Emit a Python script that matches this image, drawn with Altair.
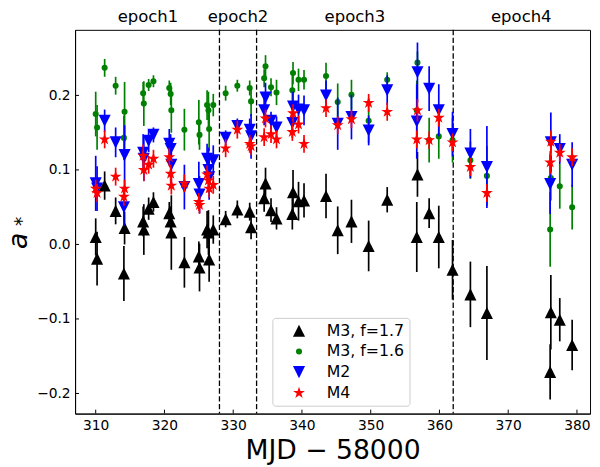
import math
import altair as alt
import pandas as pd

# ---------------- data ----------------
mjd = [310.0, 310.2, 311.3, 312.9, 314.1, 314.2, 316.9, 317.0, 317.7, 318.4,
       320.7, 320.9, 321.0, 322.9, 325.0, 325.1, 326.2, 326.4, 326.5, 327.1,
       328.9, 330.6, 332.4, 332.6, 334.5, 334.7, 335.5, 336.3, 338.6, 338.7,
       339.5, 340.3, 343.5, 345.2, 347.2, 349.7, 352.4, 356.7, 356.8, 358.5,
       359.9, 361.9, 364.5, 366.9, 376.1, 376.2, 377.5, 379.3]

m3_f17 = [0.010, -0.019, 0.079, 0.045, -0.039, 0.022, 0.031, 0.020, 0.048, 0.057,
          0.042, 0.031, 0.016, -0.024, -0.016, -0.031, 0.020, 0.016, -0.020, 0.020,
          0.034, 0.047, 0.044, 0.023, 0.062, 0.082, 0.046, 0.035, 0.041, 0.070,
          0.058, 0.059, 0.065, 0.019, 0.031, -0.002, 0.060, 0.010, 0.094, 0.042,
          0.010, -0.034, -0.067, -0.092, -0.171, -0.091, -0.101, -0.135]
m3_f17_err = [0.025, 0.036, 0.019, 0.018, 0.037, 0.022, 0.020, 0.034, 0.015, 0.013,
              0.015, 0.020, 0.050, 0.034, 0.020, 0.032, 0.025, 0.030, 0.030, 0.019,
              0.011, 0.012, 0.012, 0.016, 0.018, 0.021, 0.016, 0.015, 0.021, 0.030,
              0.026, 0.023, 0.030, 0.032, 0.029, 0.034, 0.017, 0.047, 0.030, 0.020,
              0.042, 0.040, 0.044, 0.063, 0.037, 0.050, 0.029, 0.034]

m3_f16 = [0.175, 0.157, 0.237, 0.213, 0.143, 0.178, 0.203, 0.189, 0.214, 0.219,
          0.210, 0.202, 0.180, 0.154, 0.164, 0.147, 0.187, 0.180, 0.155, 0.187,
          0.203, 0.213, 0.210, 0.192, 0.223, 0.239, 0.211, 0.204, 0.207, 0.230,
          0.221, 0.221, 0.226, 0.191, 0.201, 0.166, 0.221, 0.180, 0.244, 0.140,
          0.145, 0.140, 0.113, 0.092, 0.020, 0.089, 0.078, 0.050]
m3_f16_err = [0.030, 0.030, 0.012, 0.012, 0.030, 0.040, 0.015, 0.030, 0.008, 0.008,
              0.010, 0.015, 0.030, 0.028, 0.030, 0.020, 0.020, 0.025, 0.030, 0.015,
              0.010, 0.008, 0.010, 0.020, 0.012, 0.015, 0.012, 0.017, 0.020, 0.015,
              0.015, 0.013, 0.018, 0.025, 0.020, 0.030, 0.010, 0.040, 0.015, 0.030,
              0.030, 0.030, 0.025, 0.040, 0.050, 0.030, 0.030, 0.030]

m2 = [0.082, 0.075, 0.166, 0.137, 0.050, 0.120, 0.123, 0.115, 0.139, 0.147,
      0.135, 0.128, 0.107, 0.077, 0.081, 0.067, 0.115, 0.100, 0.090, 0.113,
      0.143, 0.159, 0.154, 0.145, 0.180, 0.197, 0.166, 0.157, 0.163, 0.185,
      0.181, 0.180, 0.200, 0.162, 0.171, 0.153, 0.207, 0.165, 0.231, 0.209,
      0.180, 0.148, 0.122, 0.104, 0.081, 0.137, 0.128, 0.107]
m2_err = [0.037, 0.030, 0.015, 0.020, 0.025, 0.040, 0.025, 0.030, 0.015, 0.010,
          0.020, 0.020, 0.025, 0.030, 0.030, 0.025, 0.020, 0.030, 0.030, 0.020,
          0.010, 0.010, 0.015, 0.030, 0.020, 0.020, 0.012, 0.015, 0.020, 0.020,
          0.020, 0.020, 0.020, 0.035, 0.030, 0.020, 0.020, 0.050, 0.040, 0.030,
          0.035, 0.030, 0.033, 0.055, 0.040, 0.040, 0.020, 0.030]

m4 = [0.075, 0.069, 0.141, 0.091, 0.064, 0.075, 0.119, 0.100, 0.107, 0.115,
      0.117, 0.095, 0.079, 0.082, 0.057, 0.053, 0.094, 0.086, 0.075, 0.080,
      0.129, 0.154, 0.135, 0.132, 0.144, 0.169, 0.148, 0.141, 0.151, 0.176,
      0.161, 0.135, 0.183, 0.160, 0.168, 0.190, 0.178, 0.141, 0.180, 0.140,
      0.170, 0.137, 0.104, 0.069, 0.110, 0.138, 0.123, 0.117]
m4_err = [0.012, 0.012, 0.012, 0.012, 0.012, 0.012, 0.015, 0.015, 0.012, 0.012,
          0.012, 0.012, 0.012, 0.012, 0.012, 0.012, 0.012, 0.012, 0.012, 0.012,
          0.012, 0.012, 0.012, 0.012, 0.012, 0.012, 0.012, 0.012, 0.012, 0.012,
          0.012, 0.012, 0.012, 0.012, 0.012, 0.012, 0.012, 0.012, 0.015, 0.012,
          0.012, 0.012, 0.012, 0.012, 0.015, 0.015, 0.012, 0.012]

series_names = ["M3, f=1.7", "M3, f=1.6", "M2", "M4"]
series_colors = ["black", "#008000", "#0000ff", "#ff0000"]

epoch_names = ["epoch1", "epoch2", "epoch3", "epoch4"]
epoch_centers = [317.6, 330.7, 347.7, 371.9]
epoch_bounds = [328.0, 333.4, 362.0]

x_ticks = [310, 320, 330, 340, 350, 360, 370, 380]
y_ticks = [-0.2, -0.1, 0.0, 0.1, 0.2]

# ---------------- tables ----------------
rows = []
for name, vals, errs in zip(series_names,
                            [m3_f17, m3_f16, m2, m4],
                            [m3_f17_err, m3_f16_err, m2_err, m4_err]):
    for x, v, e in zip(mjd, vals, errs):
        rows.append({"mjd": x, "a": v, "lo": v - e, "hi": v + e, "series": name})
df = pd.DataFrame(rows)


def star_path(inner=0.381966):
    pts = []
    for k in range(10):
        r = 1.0 if k % 2 == 0 else inner
        ang = math.radians(-90 + 36 * k)
        pts.append((r * math.cos(ang), r * math.sin(ang)))
    return "M" + "L".join(f"{px:.4f},{py:.4f}" for px, py in pts) + "Z"


shape_range = ["M0,-1L-1,1L1,1Z", "circle", "M0,1L-1,-1L1,-1Z", star_path()]
size_range = [150, 38, 150, 160]

W, H = 522, 389
xs = alt.Scale(domain=[307.0, 381.9], nice=False, zero=False)
ys = alt.Scale(domain=[-0.227, 0.288], nice=False, zero=False)
col = alt.Scale(domain=series_names, range=series_colors)
shp = alt.Scale(domain=series_names, range=shape_range)
siz = alt.Scale(type="ordinal", domain=series_names, range=size_range)

x_axis = alt.Axis(title="MJD − 58000", values=x_ticks, ticks=False, grid=False,
                  labelPadding=5, titlePadding=6)
y_axis = alt.Axis(title=None, values=y_ticks, format=".1f", ticks=False,
                  grid=False, labelPadding=5)
legend = alt.Legend(orient="none", legendX=200, legendY=292, title=None)

X = lambda f: alt.X(f, scale=xs, axis=x_axis)
Y = lambda f: alt.Y(f, scale=ys, axis=y_axis)

layers = []

bounds_df = pd.DataFrame({"x": epoch_bounds})
layers.append(alt.Chart(bounds_df).mark_rule(color="black", strokeWidth=1.3,
                                             strokeDash=[5.5, 2.4]).encode(x=X("x:Q")))

for name, c in zip(series_names, series_colors):
    sub = alt.Chart(df).transform_filter(alt.datum.series == name)
    layers.append(sub.mark_rule(strokeWidth=1.7, color=c).encode(
        x=X("mjd:Q"), y=Y("lo:Q"), y2="hi:Q"))
    layers.append(sub.mark_point(filled=True, opacity=1, strokeWidth=0).encode(
        x=X("mjd:Q"), y=Y("a:Q"),
        color=alt.Color("series:N", scale=col, legend=legend),
        shape=alt.Shape("series:N", scale=shp, legend=legend),
        size=alt.Size("series:N", scale=siz, legend=legend),
    ))

xt_df = pd.DataFrame({"x": x_ticks})
layers.append(alt.Chart(xt_df).mark_rule(color="black", strokeWidth=1).encode(
    x=X("x:Q"), y=alt.value(H), y2=alt.value(H - 4)))
yt_df = pd.DataFrame({"y": y_ticks})
layers.append(alt.Chart(yt_df).mark_rule(color="black", strokeWidth=1).encode(
    y=Y("y:Q"), x=alt.value(0), x2=alt.value(4)))

epoch_df = pd.DataFrame({"x": epoch_centers, "name": epoch_names})
layers.append(alt.Chart(epoch_df).mark_text(font="DejaVu Sans", fontSize=16.7,
                                            baseline="alphabetic", align="center",
                                            color="black").encode(
    x=X("x:Q"), y=alt.value(-7.5), text="name:N"))

layers.append(alt.Chart(pd.DataFrame({"t": ["a"]})).mark_text(
    font="DejaVu Sans", fontSize=27, fontStyle="italic", angle=270,
    align="center", baseline="alphabetic", color="black").encode(
    x=alt.value(-49), y=alt.value(214), text="t:N"))
layers.append(alt.Chart(pd.DataFrame({"t": ["*"]})).mark_text(
    font="DejaVu Sans", fontSize=19, angle=270,
    align="center", baseline="alphabetic", color="black").encode(
    x=alt.value(-47.5), y=alt.value(194), text="t:N"))

chart = alt.layer(*layers).properties(
    width=W, height=H,
    autosize=alt.AutoSizeParams(type="none"),
    padding={"left": 68, "top": 19, "right": 2, "bottom": 51},
).configure_view(
    stroke="black", strokeWidth=1
).configure_axis(
    domainColor="black", domainWidth=1,
    labelFont="DejaVu Sans", labelFontSize=14, labelColor="black",
    titleFont="DejaVu Sans", titleFontSize=27, titleColor="black",
    titleFontWeight="normal",
).configure_legend(
    fillColor="white", strokeColor="#cccccc", cornerRadius=3, padding=5,
    labelFont="DejaVu Sans", labelFontSize=16, labelColor="black",
    symbolOffset=14, labelOffset=20, rowPadding=5, symbolStrokeWidth=0,
)

chart.save("out.html", embed_options={"renderer": "svg", "actions": False})
